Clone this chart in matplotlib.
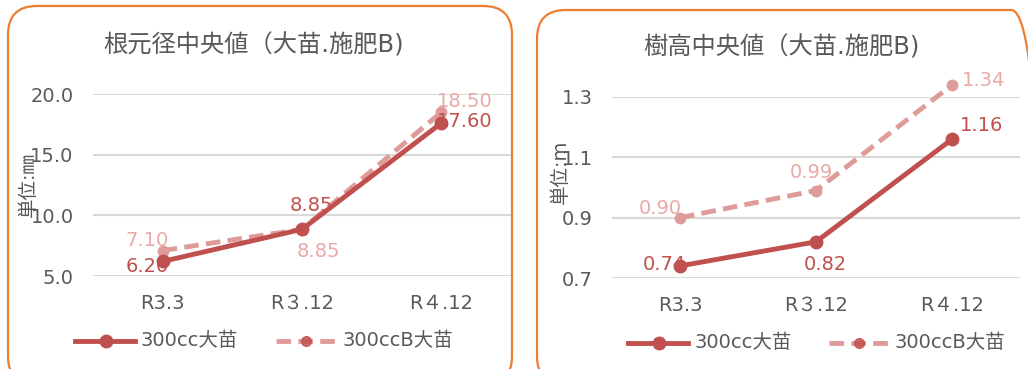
import matplotlib.pyplot as plt
from matplotlib.patches import FancyBboxPatch

plt.rcParams['font.family'] = ['DejaVu Sans', 'Noto Sans CJK JP']

# データ
dates = ['R3.3', 'R３.12', 'R４.12']
series_names = ['300cc大苗', '300ccB大苗']

root_300cc = [6.20, 8.85, 17.60]
root_300ccB = [7.10, 8.85, 18.50]
height_300cc = [0.74, 0.82, 1.16]
height_300ccB = [0.90, 0.99, 1.34]

c_dark = '#C0504D'
c_light = '#DE9B99'
c_light_txt = '#E8A9A7'
c_text = '#595959'
c_border = '#ED7D31'

W, H = 1028, 369
fig = plt.figure(figsize=(W / 100, H / 100), dpi=100)


def px_axes(x0, y_top, x1, y_bot):
    return fig.add_axes([x0 / W, 1 - y_bot / H, (x1 - x0) / W, (y_bot - y_top) / H])


def frame(x0, y0, x1, y1):
    box = FancyBboxPatch((x0 / W, 1 - y1 / H), (x1 - x0) / W, (y1 - y0) / H,
                         boxstyle='round,pad=0,rounding_size=0.028',
                         transform=fig.transFigure, fc='none', ec=c_border,
                         lw=1.6, mutation_aspect=W / H, clip_on=False)
    fig.patches.append(box)


def draw_panel(ax, a, b, ticks, ylim, offs_a, offs_b):
    x = range(len(dates))
    ax.plot(x, a, color=c_dark, lw=3.5, marker='o', ms=9, zorder=3, clip_on=False)
    ax.plot(x, b, color=c_light, lw=3.5, ls=(0, (3, 1.5)), marker='o', ms=7.5,
            zorder=2, clip_on=False)
    for i in x:
        dx, dy = offs_a[i]
        ax.annotate('{:.2f}'.format(a[i]), (i, a[i]), xytext=(dx, dy), textcoords='offset points',
                    ha='center', va='center', color=c_dark, fontsize=14, annotation_clip=False)
        dx, dy = offs_b[i]
        ax.annotate('{:.2f}'.format(b[i]), (i, b[i]), xytext=(dx, dy), textcoords='offset points',
                    ha='center', va='center', color=c_light_txt, fontsize=14, annotation_clip=False)
    ax.set_xlim(-0.5, 2.5)
    ax.set_ylim(*ylim)
    ax.set_yticks(ticks)
    ax.set_yticklabels(['{:.1f}'.format(t) for t in ticks])
    ax.set_xticks(list(x))
    ax.set_xticklabels(dates)
    ax.tick_params(length=0, labelsize=14, labelcolor=c_text)
    ax.tick_params(axis='x', pad=13)
    ax.tick_params(axis='y', pad=14)
    ax.grid(axis='y', color='#D9D9D9', lw=1.5)
    ax.set_axisbelow(True)
    for s in ax.spines.values():
        s.set_visible(False)
    ax.patch.set_alpha(0)


def legend_row(x_solid, x_dash, y):
    ax = fig.add_axes([0, 0, 1, 1], facecolor='none')
    ax.set_xlim(0, W)
    ax.set_ylim(H, 0)
    ax.axis('off')
    ax.plot([x_solid, x_solid + 60], [y, y], color=c_dark, lw=3.5)
    ax.plot([x_solid + 31], [y], 'o', color=c_dark, ms=9)
    ax.text(x_solid + 66, y, series_names[0], color=c_text, fontsize=14, va='center')
    ax.plot([x_dash, x_dash + 60], [y, y], color=c_light, lw=3.5, ls=(0, (3, 1.5)))
    ax.plot([x_dash + 30], [y], 'o', color=c_dark, ms=7, alpha=0.85)
    ax.text(x_dash + 66, y, series_names[1], color=c_text, fontsize=14, va='center')


# 根元径
frame(8, 6, 512, 385)
ax1 = px_axes(93, 94, 511, 276)
draw_panel(ax1, root_300cc, root_300ccB, [5, 10, 15, 20], (5, 20),
           [(-11, -4), (6.5, 17), (17, 1.5)], [(-11, 7), (12, -16), (17, 7.5)])
fig.text(254 / W, 1 - 45 / H, '根元径中央値（大苗.施肥B)', ha='center', va='center',
         fontsize=17.5, color=c_text)
fig.text(28 / W, 1 - 184 / H, '単位:㎜', rotation=90, ha='center', va='center',
         fontsize=14, color=c_text)

# 樹高
frame(537, 10, 1040, 385)
ax2 = px_axes(612, 97, 1020, 278)
draw_panel(ax2, height_300cc, height_300ccB, [0.7, 0.9, 1.1, 1.3], (0.7, 1.3),
           [(-11, 0.7), (7, -16), (21, 10)], [(-14, 6.5), (-3.6, 13), (23, 3)])
fig.text(781 / W, 1 - 47 / H, '樹高中央値（大苗.施肥B)', ha='center', va='center',
         fontsize=17.5, color=c_text)
fig.text(560 / W, 1 - 172 / H, '単位:m', rotation=90, ha='center', va='center',
         fontsize=14, color=c_text)

legend_row(75, 276, 341)
legend_row(628, 829, 343)

fig.savefig('out.png', dpi=100)
